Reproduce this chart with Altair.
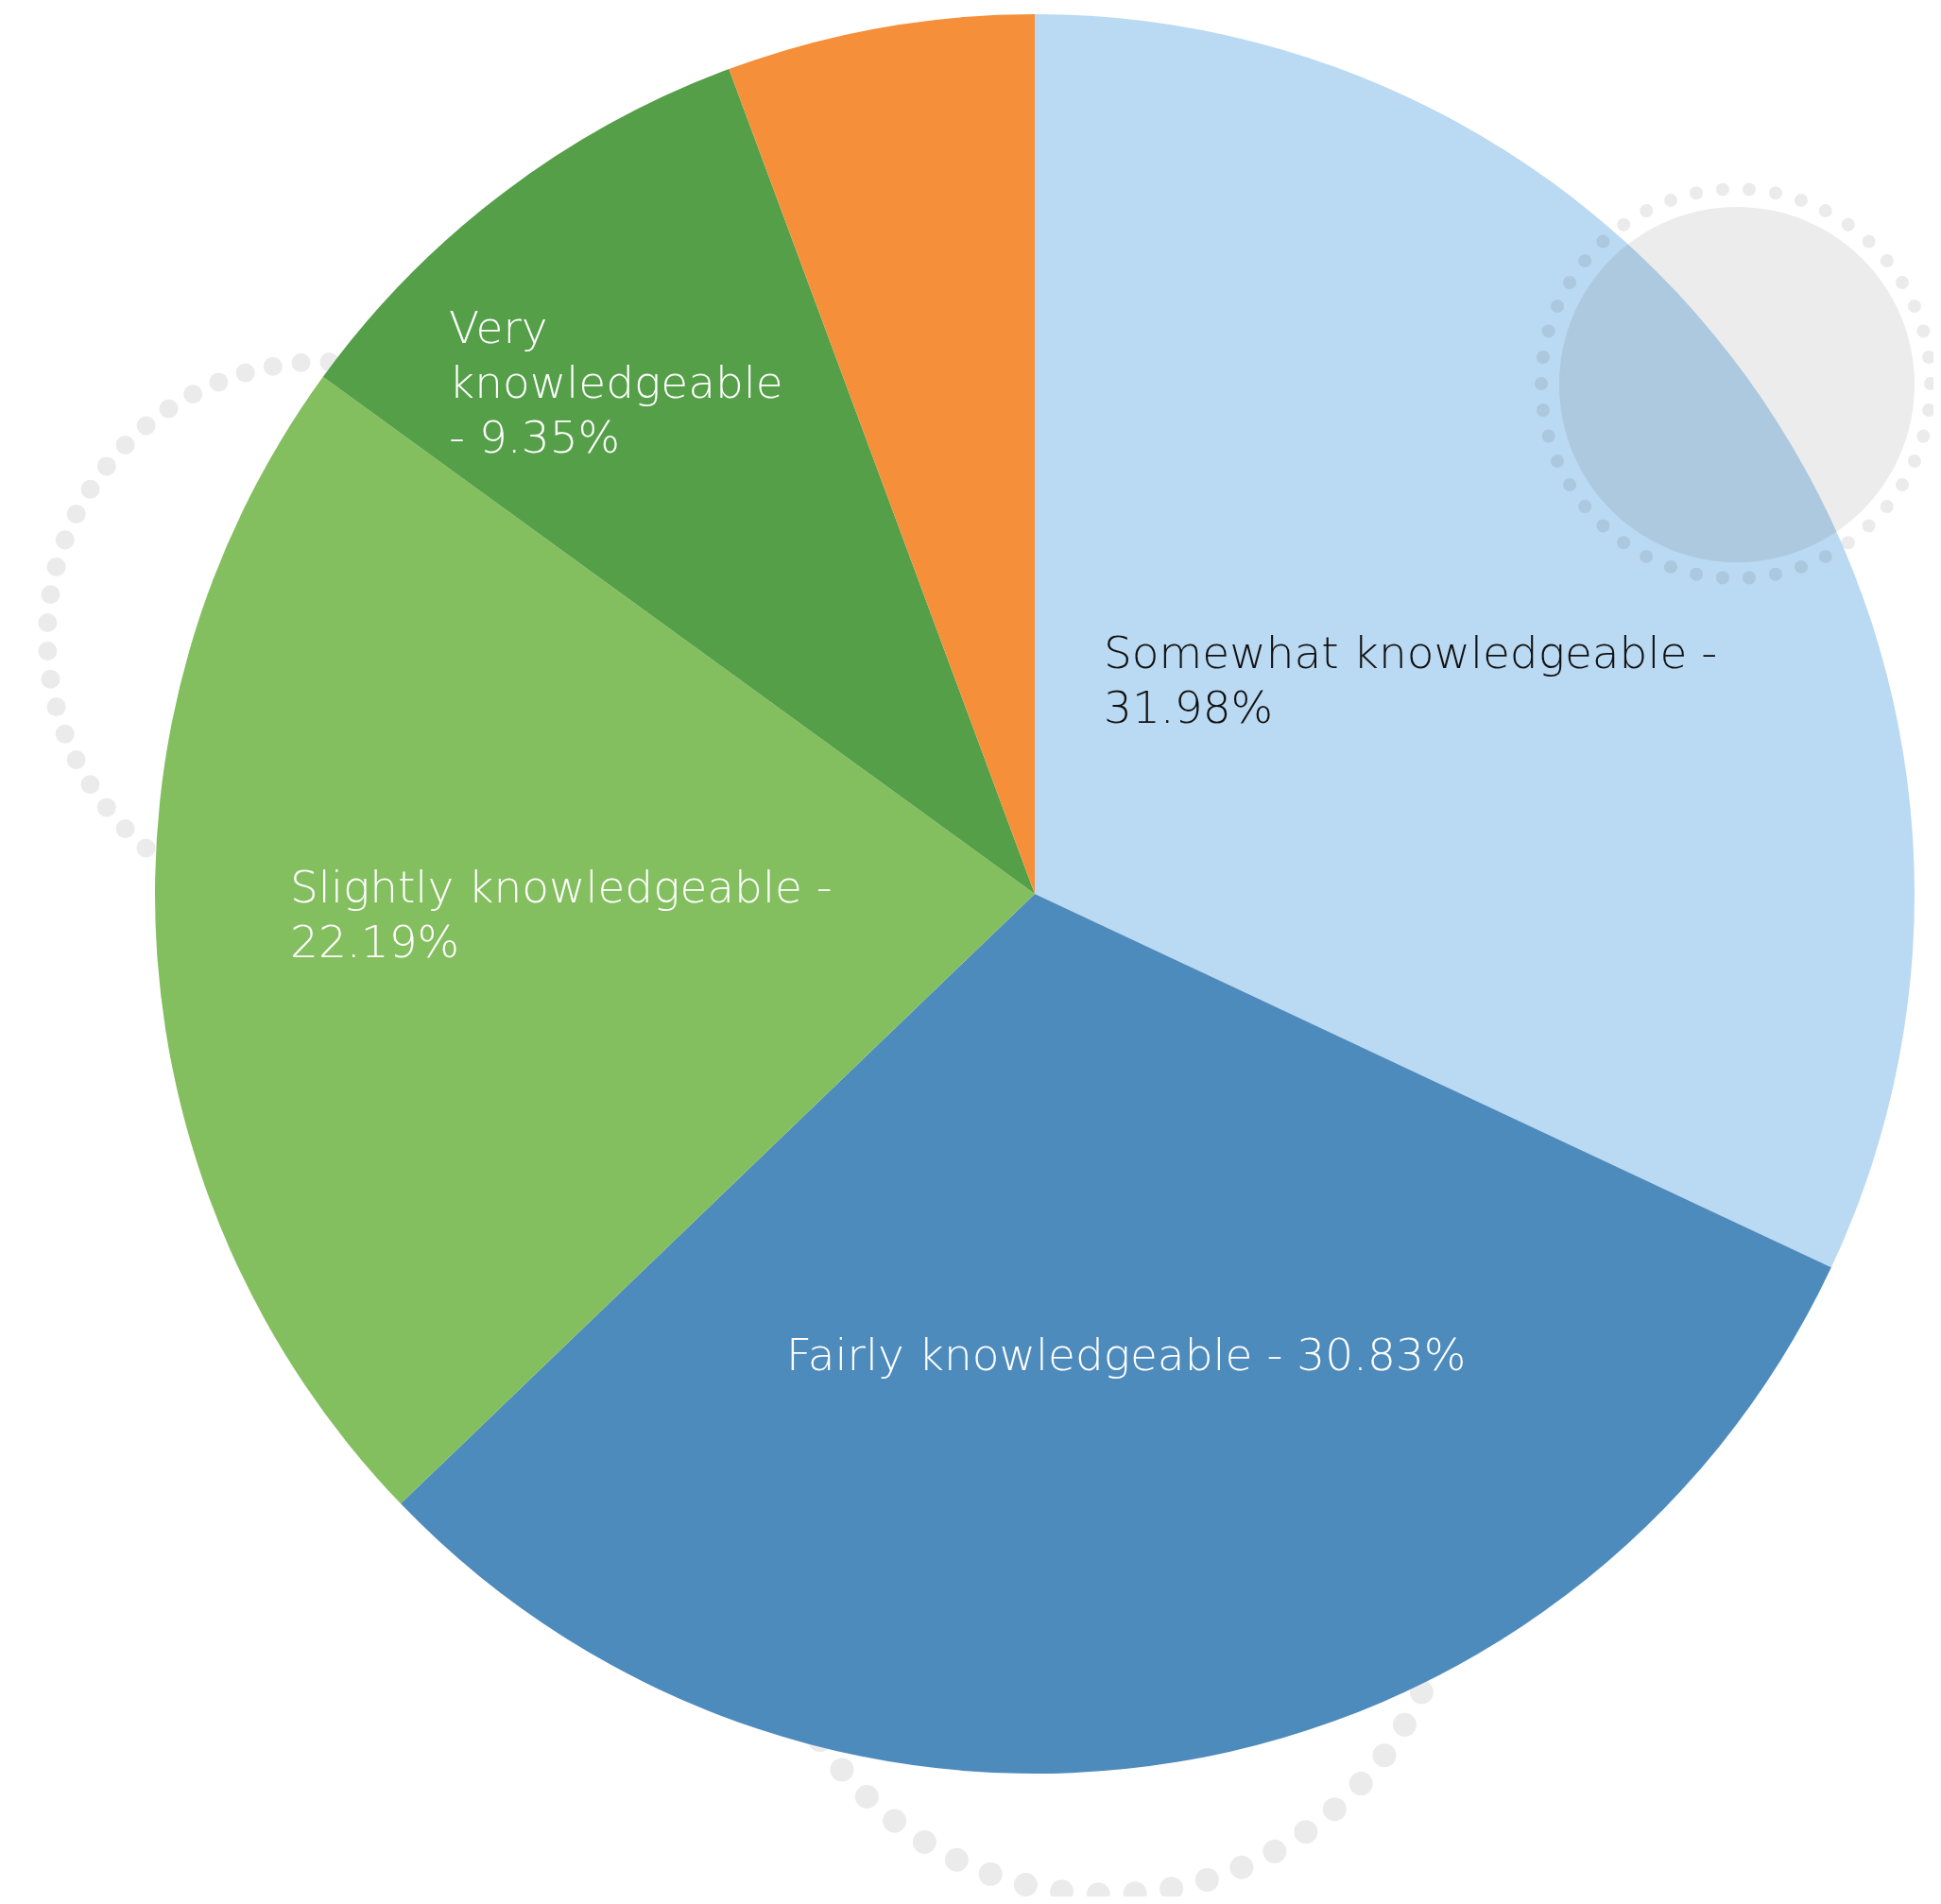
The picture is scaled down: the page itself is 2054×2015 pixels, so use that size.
import altair as alt
import numpy as np
import pandas as pd

# ---- data ----
categories = ["Somewhat knowledgeable", "Fairly knowledgeable",
              "Slightly knowledgeable", "Very knowledgeable", "Not knowledgeable"]
shares = [31.98, 30.83, 22.19, 9.35, 5.65]
colors = ["#BAD9F2", "#4E8BBD", "#84BF5F", "#549F48", "#F68F39"]
label_lines = [["Somewhat knowledgeable -", "31.98%"],
               ["Fairly knowledgeable - 30.83%"],
               ["Slightly knowledgeable -", "22.19%"],
               ["Very", "knowledgeable", "- 9.35%"]]
label_colors = ["#111111", "#ffffff", "#ffffff", "#ffffff"]

# ---- layout (pixel coordinates of the full picture) ----
W, H, M = 2054, 2015, 8
PIE_CX, PIE_CY, PIE_R = 1095, 946, 931
label_pos = [(1168, 707), (832, 1450), (307, 955), (475, 363)]
rings_back = [  # cx, cy, r, n dots, dot diameter
    (341, 674, 291, 61, 20),
    (1172, 1640, 365, 59, 25),
]
ring_front = (1837, 406, 206, 46, 14)
blob = (1838, 407, 376)

xs = alt.Scale(domain=[M, W - M], nice=False, zero=False)
ys = alt.Scale(domain=[H - M, M], nice=False, zero=False)

pie_df = pd.DataFrame({"cat": categories, "share": shares, "idx": range(len(categories))})
pie = alt.Chart(pie_df).mark_arc(radius=PIE_R).encode(
    theta=alt.Theta("share:Q", stack=True),
    order=alt.Order("idx:Q"),
    color=alt.Color("cat:N", scale=alt.Scale(domain=categories, range=colors), legend=None),
    x=alt.XDatum(PIE_CX, scale=xs, axis=None),
    y=alt.YDatum(PIE_CY, scale=ys, axis=None),
)


def ring_df(cx, cy, r, n):
    a = np.linspace(0, 2 * np.pi, n, endpoint=False)
    return pd.DataFrame({"x": cx + r * np.cos(a), "y": cy + r * np.sin(a)})


back_layers = []
for cx, cy, r, n, d in rings_back:
    back_layers.append(
        alt.Chart(ring_df(cx, cy, r, n)).mark_circle(size=d * d, color="#EBEBEB", opacity=1).encode(
            x=alt.X("x:Q", scale=xs, axis=None),
            y=alt.Y("y:Q", scale=ys, axis=None),
        )
    )

fcx, fcy, fr, fn, fd = ring_front
front_ring = alt.Chart(ring_df(fcx, fcy, fr, fn)).mark_circle(
    size=fd * fd, color="#EBEBEB", opacity=1, blend="multiply"
).encode(
    x=alt.X("x:Q", scale=xs, axis=None),
    y=alt.Y("y:Q", scale=ys, axis=None),
)

bx, by, bd = blob
blob_layer = alt.Chart(pd.DataFrame({"x": [bx], "y": [by]})).mark_circle(
    size=bd * bd, color="#ECECEC", opacity=1, blend="multiply"
).encode(
    x=alt.X("x:Q", scale=xs, axis=None),
    y=alt.Y("y:Q", scale=ys, axis=None),
)

lab_df = pd.DataFrame({
    "label": label_lines,
    "x": [p[0] for p in label_pos],
    "y": [p[1] for p in label_pos],
    "tc": label_colors,
})
labels = alt.Chart(lab_df).mark_text(
    align="left", baseline="alphabetic", font="DejaVu Sans", fontWeight=300,
    fontSize=47, lineHeight=58
).encode(
    x=alt.X("x:Q", scale=xs, axis=None),
    y=alt.Y("y:Q", scale=ys, axis=None),
    text="label",
    color=alt.Color("tc:N", scale=None),
)

chart = alt.layer(*back_layers, pie, blob_layer, front_ring, labels).properties(
    width=W - 2 * M, height=H - 2 * M, padding=0,
    autosize=alt.AutoSizeParams(type="none"),
    background="#ffffff",
).configure_view(stroke=None)

chart.save("out.html", embed_options={"renderer": "svg", "actions": False})
